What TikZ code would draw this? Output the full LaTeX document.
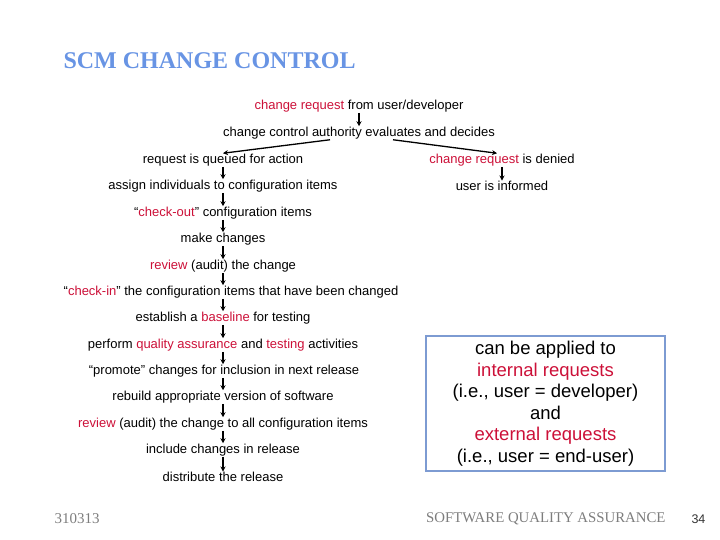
\documentclass[tikz,border=0pt]{standalone}
\usepackage{fontspec}
\setmainfont{Liberation Serif}
\setsansfont{Liberation Sans}
\usetikzlibrary{arrows.meta,positioning}
\definecolor{scmred}{RGB}{204,16,56}
\definecolor{titleblue}{RGB}{104,148,228}
\definecolor{boxblue}{RGB}{125,155,210}
\definecolor{footgray}{RGB}{125,125,125}
\newcommand{\hl}[1]{\textcolor{scmred}{#1}}
\tikzset{
  flow/.style={font=\sffamily\fontsize{13}{15}\selectfont, inner sep=0.5pt},
  arr/.style={-{Stealth[length=5pt,width=5pt]}, line width=1.3pt},
}
\begin{document}
\begin{tikzpicture}[x=1pt,y=-1pt]
			\useasboundingbox (0,0) rectangle (720,540);
			\def\col{223}
			\node[font=\bfseries\fontsize{24}{26}\selectfont, text=titleblue, anchor=west] (title) at (60,61) {SCM CHANGE CONTROL};
			
			\node[flow] (req) at (359,106) {\hl{change request} from user/developer};
			\node[flow] (cca) at (359,133) {change control authority evaluates and decides};
			\node[flow] (queued) at (\col,160) {request is queued for action};
			\node[flow] (denied) at (502,160) {\hl{change request} is denied};
			\node[flow] (assign) at (\col,186) {assign individuals to configuration items};
			\node[flow] (informed) at (502,186) {user is informed};
			\node[flow] (chout) at (\col,213) {“\hl{check-out}” configuration items};
			\node[flow] (make) at (\col,239) {make changes};
			\node[flow] (review) at (\col,266) {\hl{review} (audit) the change};
			\node[flow] (chin) at (231,292) {“\hl{check-in}” the configuration items that have been changed};
			\node[flow] (base) at (\col,318) {establish a \hl{baseline} for testing};
			\node[flow] (qa) at (\col,345) {perform \hl{quality assurance} and \hl{testing} activities};
			\node[flow] (promote) at (224,371) {“promote” changes for inclusion in next release};
			\node[flow] (rebuild) at (\col,397) {rebuild appropriate version of software};
			\node[flow] (audit) at (\col,424) {\hl{review} (audit) the change to all configuration items};
			\node[flow] (incl) at (\col,450) {include changes in release};
			\node[flow] (dist) at (\col,477) {distribute the release};
			
			\draw[arr] (req) -- (cca);
			\draw[arr] ([xshift=-29pt]cca.south) -- (queued.north);
			\draw[arr] ([xshift=34pt]cca.south) -- ([xshift=-5pt]denied.north);
			\draw[arr] (denied) -- (informed);
			\draw[arr] (queued) -- (assign);
			\draw[arr] (assign) -- (chout);
			\draw[arr] (chout) -- (make);
			\draw[arr] (make) -- (review);
			\draw[arr] (review) -- (chin.north -| review);
			\draw[arr] (chin.south -| base) -- (base);
			\draw[arr] (base) -- (qa);
			\draw[arr] (qa) -- (promote.north -| qa);
			\draw[arr] (promote.south -| qa) -- (rebuild);
			\draw[arr] (rebuild) -- (audit);
			\draw[arr] (audit) -- (incl);
			\draw[arr] (incl) -- (dist);
			
			\node[draw=boxblue, line width=1.2pt, minimum width=239pt, minimum height=135pt, align=center,
			  font=\sffamily\fontsize{18.5}{21.5}\selectfont] (note) at (545.5,403.5)
			  {can be applied to\\ \hl{internal requests}\\ (i.e., user = developer)\\ and\\ \hl{external requests}\\ (i.e., user = end-user)};
			
			\node[font=\fontsize{15}{17}\selectfont, text=footgray, anchor=west] (date) at (51,519) {310313};
			\node[font=\fontsize{14.8}{17}\selectfont, text=footgray, anchor=east] (course) at (669,519) {SOFTWARE QUALITY ASSURANCE};
			\node[font=\sffamily\fontsize{12.5}{14}\selectfont, text=black!80, anchor=west] (page) at (688,519) {34};
		\end{tikzpicture}
\end{document}
